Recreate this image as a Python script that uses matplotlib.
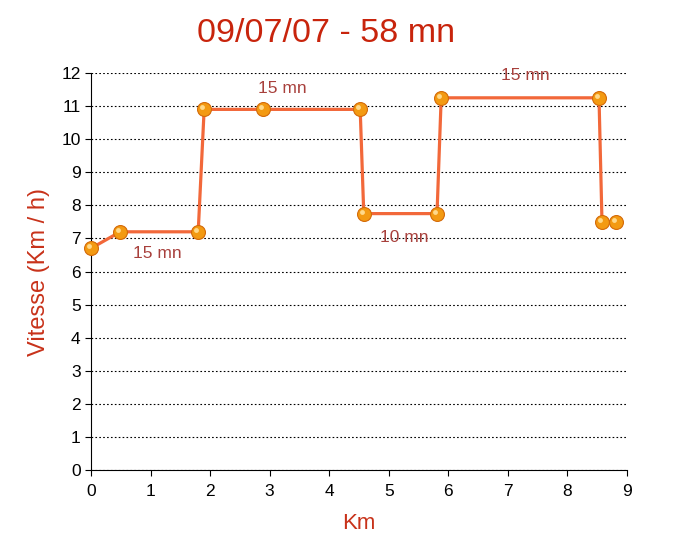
import numpy as np
import matplotlib.pyplot as plt
import matplotlib.transforms as mtransforms

plt.rcParams['font.family'] = ['Liberation Sans', 'DejaVu Sans']

#%% - données
km = [0.0, 0.49, 1.80, 1.90, 2.89, 4.52, 4.58, 5.81, 5.88, 8.53, 8.58, 8.81]
vitesse = [6.7, 7.2, 7.2, 10.9, 10.9, 10.9, 7.75, 7.75, 11.25, 11.25, 7.5, 7.5]

etiquettes = ['15 mn', '15 mn', '10 mn', '15 mn']
etiq_x = [1.11, 3.21, 5.26, 7.29]
etiq_y = [6.53, 11.52, 7.04, 11.91]

titre = "09/07/07 - 58 mn"

#%% - tracé
fig = plt.figure(figsize=(6.77, 5.52), dpi=100)
ax = fig.add_axes([91/677, 1-470/552, 536/677, 397/552])

ax.plot(km, vitesse, color='#f2683a', lw=2.3, zorder=3, clip_on=False)
ax.plot(km, vitesse, 'o', ms=10, mfc='#f39a12', mec='#d46a08', mew=0.8, zorder=4, clip_on=False)
# petit reflet pour l'effet "bille"
reflet = ax.transData + mtransforms.ScaledTranslation(-1.5/72, 1.5/72, fig.dpi_scale_trans)
ax.plot(km, vitesse, 'o', ms=3.5, mfc='#ffd98a', mec='none', transform=reflet, zorder=5, clip_on=False)

for txt, x, y in zip(etiquettes, etiq_x, etiq_y):
    ax.text(x, y, txt, color='#a8403c', fontsize=12.5, ha='center', va='center')

ax.set_xlim(0, 9)
ax.set_ylim(0, 12)
ax.set_xticks(range(10))
ax.set_yticks(range(13))
ax.yaxis.grid(True, color='black', linestyle=(0, (1.5, 2)), lw=0.8)
ax.set_axisbelow(True)
for s in ['top', 'right']:
    ax.spines[s].set_visible(False)
ax.tick_params(labelsize=12.5, length=4, direction='out', colors='black')
ax.tick_params(axis='x', pad=6)

ax.set_xlabel('Km', color='#c8321a', fontsize=16, labelpad=10)
ax.set_ylabel('Vitesse (Km / h)', color='#c8321a', fontsize=17, labelpad=8)
fig.text(326/677, 1-33/552, titre, color='#c8240c', fontsize=24.5, ha='center', va='center')

plt.savefig('out.png', dpi=100)
